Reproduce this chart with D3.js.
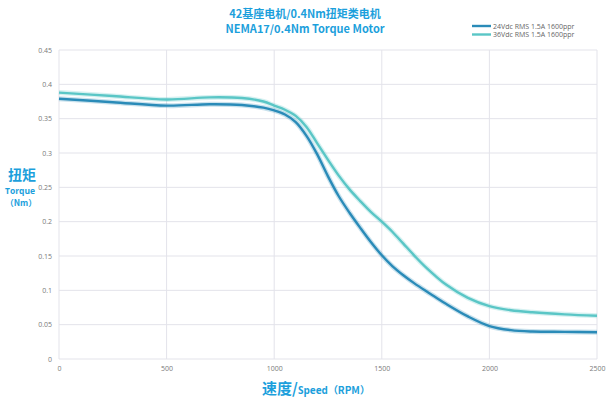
<!DOCTYPE html>
<html><head><meta charset="utf-8">
<script src="https://cdn.jsdelivr.net/npm/d3@7/dist/d3.min.js"></script>
<style>
body{margin:0;background:#fff;}
text{font-family:"Open Sans","Noto Sans CJK SC",sans-serif;}
</style></head>
<body><svg id="c" width="608" height="400"></svg>
<script>
const titleLines = ["42基座电机/0.4Nm扭矩类电机", "NEMA17/0.4Nm Torque Motor"];
const seriesNames = ["24Vdc RMS 1.5A 1600ppr", "36Vdc RMS 1.5A 1600ppr"];
const xTicks = [0, 500, 1000, 1500, 2000, 2500];
const yTicks = [0, 0.05, 0.1, 0.15, 0.2, 0.25, 0.3, 0.35, 0.4, 0.45];
const rpm24 = [0, 250, 500, 700, 850, 950, 1000, 1050, 1100, 1150, 1200, 1250, 1300, 1350, 1400, 1450, 1500, 1550, 1600, 1650, 1700, 1750, 1800, 1900, 2000, 2100, 2200, 2350, 2500];
const torque24 = [0.379, 0.374, 0.369, 0.371, 0.370, 0.366, 0.362, 0.356, 0.345, 0.325, 0.298, 0.266, 0.237, 0.213, 0.191, 0.170, 0.151, 0.135, 0.122, 0.1105, 0.100, 0.090, 0.080, 0.062, 0.048, 0.042, 0.040, 0.0395, 0.039];
const rpm36 = [0, 250, 500, 700, 850, 950, 1000, 1050, 1100, 1150, 1200, 1250, 1300, 1350, 1400, 1450, 1500, 1550, 1600, 1650, 1700, 1800, 1900, 2000, 2100, 2200, 2350, 2500];
const torque36 = [0.388, 0.383, 0.378, 0.381, 0.380, 0.375, 0.369, 0.363, 0.354, 0.338, 0.314, 0.290, 0.267, 0.247, 0.230, 0.214, 0.200, 0.185, 0.168, 0.151, 0.135, 0.108, 0.089, 0.077, 0.071, 0.068, 0.065, 0.063];

const colors = ["#2a8bb8", "#5ac6c6"];
const blue = "#1c9fdc";
const svg = d3.select("#c");
const x = d3.scaleLinear().domain([0, 2500]).range([59, 597]);
const y = d3.scaleLinear().domain([0, 0.45]).range([359, 50]);

// gridlines
svg.append("g").selectAll("line").data(yTicks).join("line")
  .attr("x1", x(0)).attr("x2", x(2500)).attr("y1", d => y(d)).attr("y2", d => y(d))
  .attr("stroke", "#e3e3ea").attr("stroke-width", 1);
svg.append("g").selectAll("line").data(xTicks).join("line")
  .attr("x1", d => x(d)).attr("x2", d => x(d)).attr("y1", y(0)).attr("y2", y(0.45))
  .attr("stroke", "#e3e3ea").attr("stroke-width", 1);

// axes
const yAxis = svg.append("g").attr("transform", `translate(${x(0)},0)`)
  .call(d3.axisLeft(y).tickValues(yTicks).tickSize(0).tickPadding(7).tickFormat(d => d3.format("~g")(d)));
const xAxis = svg.append("g").attr("transform", `translate(0,${y(0)})`)
  .call(d3.axisBottom(x).tickValues(xTicks).tickSize(0).tickPadding(7).tickFormat(d3.format("d")));
[yAxis, xAxis].forEach(a => {
  a.select(".domain").remove();
  a.selectAll("text").attr("fill", "#7a7a7a").style("font-size", "7px").style("font-family", "Open Sans");
});

// lines
const line = d3.line().x(d => x(d[0])).y(d => y(d[1])).curve(d3.curveCatmullRom.alpha(0.5));
const data = [d3.zip(rpm24, torque24), d3.zip(rpm36, torque36)];
data.forEach((pts, i) => {
  svg.append("path").datum(pts).attr("d", line).attr("fill", "none")
    .attr("stroke", colors[i]).attr("stroke-opacity", 0.25).attr("stroke-width", 5);
  svg.append("path").datum(pts).attr("d", line).attr("fill", "none")
    .attr("stroke", colors[i]).attr("stroke-width", 2.4);
});

// title
svg.selectAll(".title").data(titleLines).join("text")
  .attr("x", 305).attr("y", (d, i) => 17.5 + i * 15).attr("text-anchor", "middle")
  .attr("fill", blue).style("font-size", "11px").style("font-weight", "bold")
  .style("font-family", "'Noto Sans CJK SC','Open Sans',sans-serif").text(d => d);

// legend
seriesNames.forEach((n, i) => {
  const ly = 26 + i * 8.5;
  svg.append("line").attr("x1", 472).attr("x2", 491).attr("y1", ly).attr("y2", ly)
    .attr("stroke", colors[i]).attr("stroke-width", 2.4);
  svg.append("text").attr("x", 493).attr("y", ly + 2.5).attr("fill", "#666")
    .style("font-size", "7px").text(n);
});

// y label
const yl = svg.append("g").attr("fill", blue).attr("text-anchor", "middle").style("font-weight", "bold");
yl.append("text").attr("x", 22).attr("y", 180).style("font-size", "14px")
  .style("font-family", "'Noto Sans CJK SC',sans-serif").text("扭矩");
yl.append("text").attr("x", 20).attr("y", 193.5).style("font-size", "8.5px").text("Torque");
yl.append("text").attr("x", 21).attr("y", 206).style("font-size", "8.5px")
  .style("font-family", "'Noto Sans CJK SC','Open Sans',sans-serif").text("（Nm）");

// x label
const xl = svg.append("text").attr("x", 316).attr("y", 394).attr("text-anchor", "middle")
  .attr("fill", blue).style("font-weight", "bold").style("font-family", "'Noto Sans CJK SC','Open Sans',sans-serif");
xl.append("tspan").style("font-size", "15px").text("速度/");
xl.append("tspan").style("font-size", "10px").style("font-family", "'Open Sans',sans-serif").text("Speed");
xl.append("tspan").style("font-size", "10px").text("（RPM）");
</script></body></html>
